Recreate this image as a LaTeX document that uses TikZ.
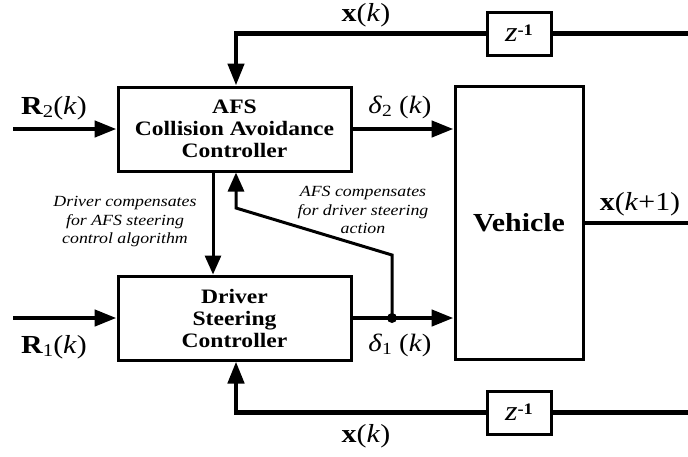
\documentclass[tikz,border=0pt]{standalone}
\usepackage{fontspec}
\setmainfont[FakeStretch=1.15]{Liberation Serif}
\usetikzlibrary{arrows.meta}
\begin{document}
\begin{tikzpicture}[x=1pt,y=-1pt,
  blk/.style={draw, line width=3pt, minimum width=233pt, minimum height=84pt, align=center,
    font=\fontsize{20.5}{22}\selectfont\bfseries, inner sep=0pt},
  zbox/.style={draw, line width=3pt, minimum width=64pt, minimum height=43pt, inner sep=0pt,
    font=\fontsize{28}{30}\selectfont},
  sig/.style={line width=4.5pt},
  sigarrow/.style={line width=4.5pt, -{Triangle[length=22pt,width=16pt]}},
  cmp/.style={line width=3pt, -{Triangle[length=19pt,width=16pt]}},
  lbl/.style={font=\fontsize{26}{28}\selectfont, inner sep=0pt},
  dlbl/.style={font=\fontsize{25}{27}\selectfont, inner sep=0pt},
  note/.style={font=\fontsize{15.5}{18.5}\selectfont\itshape, align=center, inner sep=0pt}
]
\useasboundingbox (0,0) rectangle (688,456);

% blocks
\node[blk] (afs) at (234.5,129) {AFS\\Collision Avoidance\\Controller};
\node[blk] (drv) at (234.5,318) {Driver\\Steering\\Controller};
\node[blk, minimum width=128pt, minimum height=273pt, font=\fontsize{26}{28}\selectfont\bfseries] (veh) at (519,223) {Vehicle};
\node[zbox] (z1) at (519,33.5) {\textit{z}\raisebox{0.45ex}{\fontsize{16}{16}\selectfont\bfseries -1}};
\node[zbox] (z2) at (519,412.5) {\textit{z}\raisebox{0.45ex}{\fontsize{16}{16}\selectfont\bfseries -1}};

% coordinates
\coordinate (r2) at (13,129);
\coordinate (r1) at (13,318);
\coordinate (rt) at (688,33.5);
\coordinate (rb) at (688,412.5);
\coordinate (ro) at (688,223);
\coordinate (t1) at (236,33.5);
\coordinate (b1) at (236,412.5);
\coordinate (dx) at (213,200);
\coordinate (j) at (392,318);
\coordinate (jk) at (392,255);
\coordinate (ak) at (236,208);

% inputs
\draw[sigarrow] (r2) -- (afs.west);
\draw[sigarrow] (r1) -- (drv.west);
\draw[sigarrow] (afs.east) -- (veh.west |- afs.east);
\draw[sigarrow] (drv.east) -- (veh.west |- drv.east);
\draw[sig] (veh.east) -- (ro);

% feedback
\draw[sig] (rt) -- (z1.east);
\draw[sigarrow] (z1.west) -- (t1) -- (t1 |- afs.north);
\draw[sig] (rb) -- (z2.east);
\draw[sigarrow] (z2.west) -- (b1) -- (b1 |- drv.south);

% compensation
\draw[cmp] (afs.south -| dx) -- (drv.north -| dx);
\draw[cmp] (j) -- (jk) -- (ak) -- (ak |- afs.south);
\fill (j) circle (5pt);

% labels
\node[lbl] (lr2) at (54,108) {\textbf{R}\raisebox{-0.3ex}{\fontsize{18}{18}\selectfont 2}(\textit{k})};
\node[lbl] (lr1) at (54,347) {\textbf{R}\raisebox{-0.3ex}{\fontsize{18}{18}\selectfont 1}(\textit{k})};
\node[dlbl] (ld2) at (400,107) {\textit{δ}\raisebox{-0.3ex}{\fontsize{17}{17}\selectfont 2} (\textit{k})};
\node[dlbl] (ld1) at (400,345) {\textit{δ}\raisebox{-0.3ex}{\fontsize{17}{17}\selectfont 1} (\textit{k})};
\node[lbl] (lxt) at (366,15) {\textbf{x}(\textit{k})};
\node[lbl] (lxb) at (366,436) {\textbf{x}(\textit{k})};
\node[lbl] (lxo) at (640,204) {\textbf{x}(\textit{k}+1)};
\node[note] (n1) at (125,222) {Driver compensates\\for AFS steering\\control algorithm};
\node[note] (n2) at (363,210) {AFS compensates\\for driver steering\\action};
\end{tikzpicture}
\end{document}
